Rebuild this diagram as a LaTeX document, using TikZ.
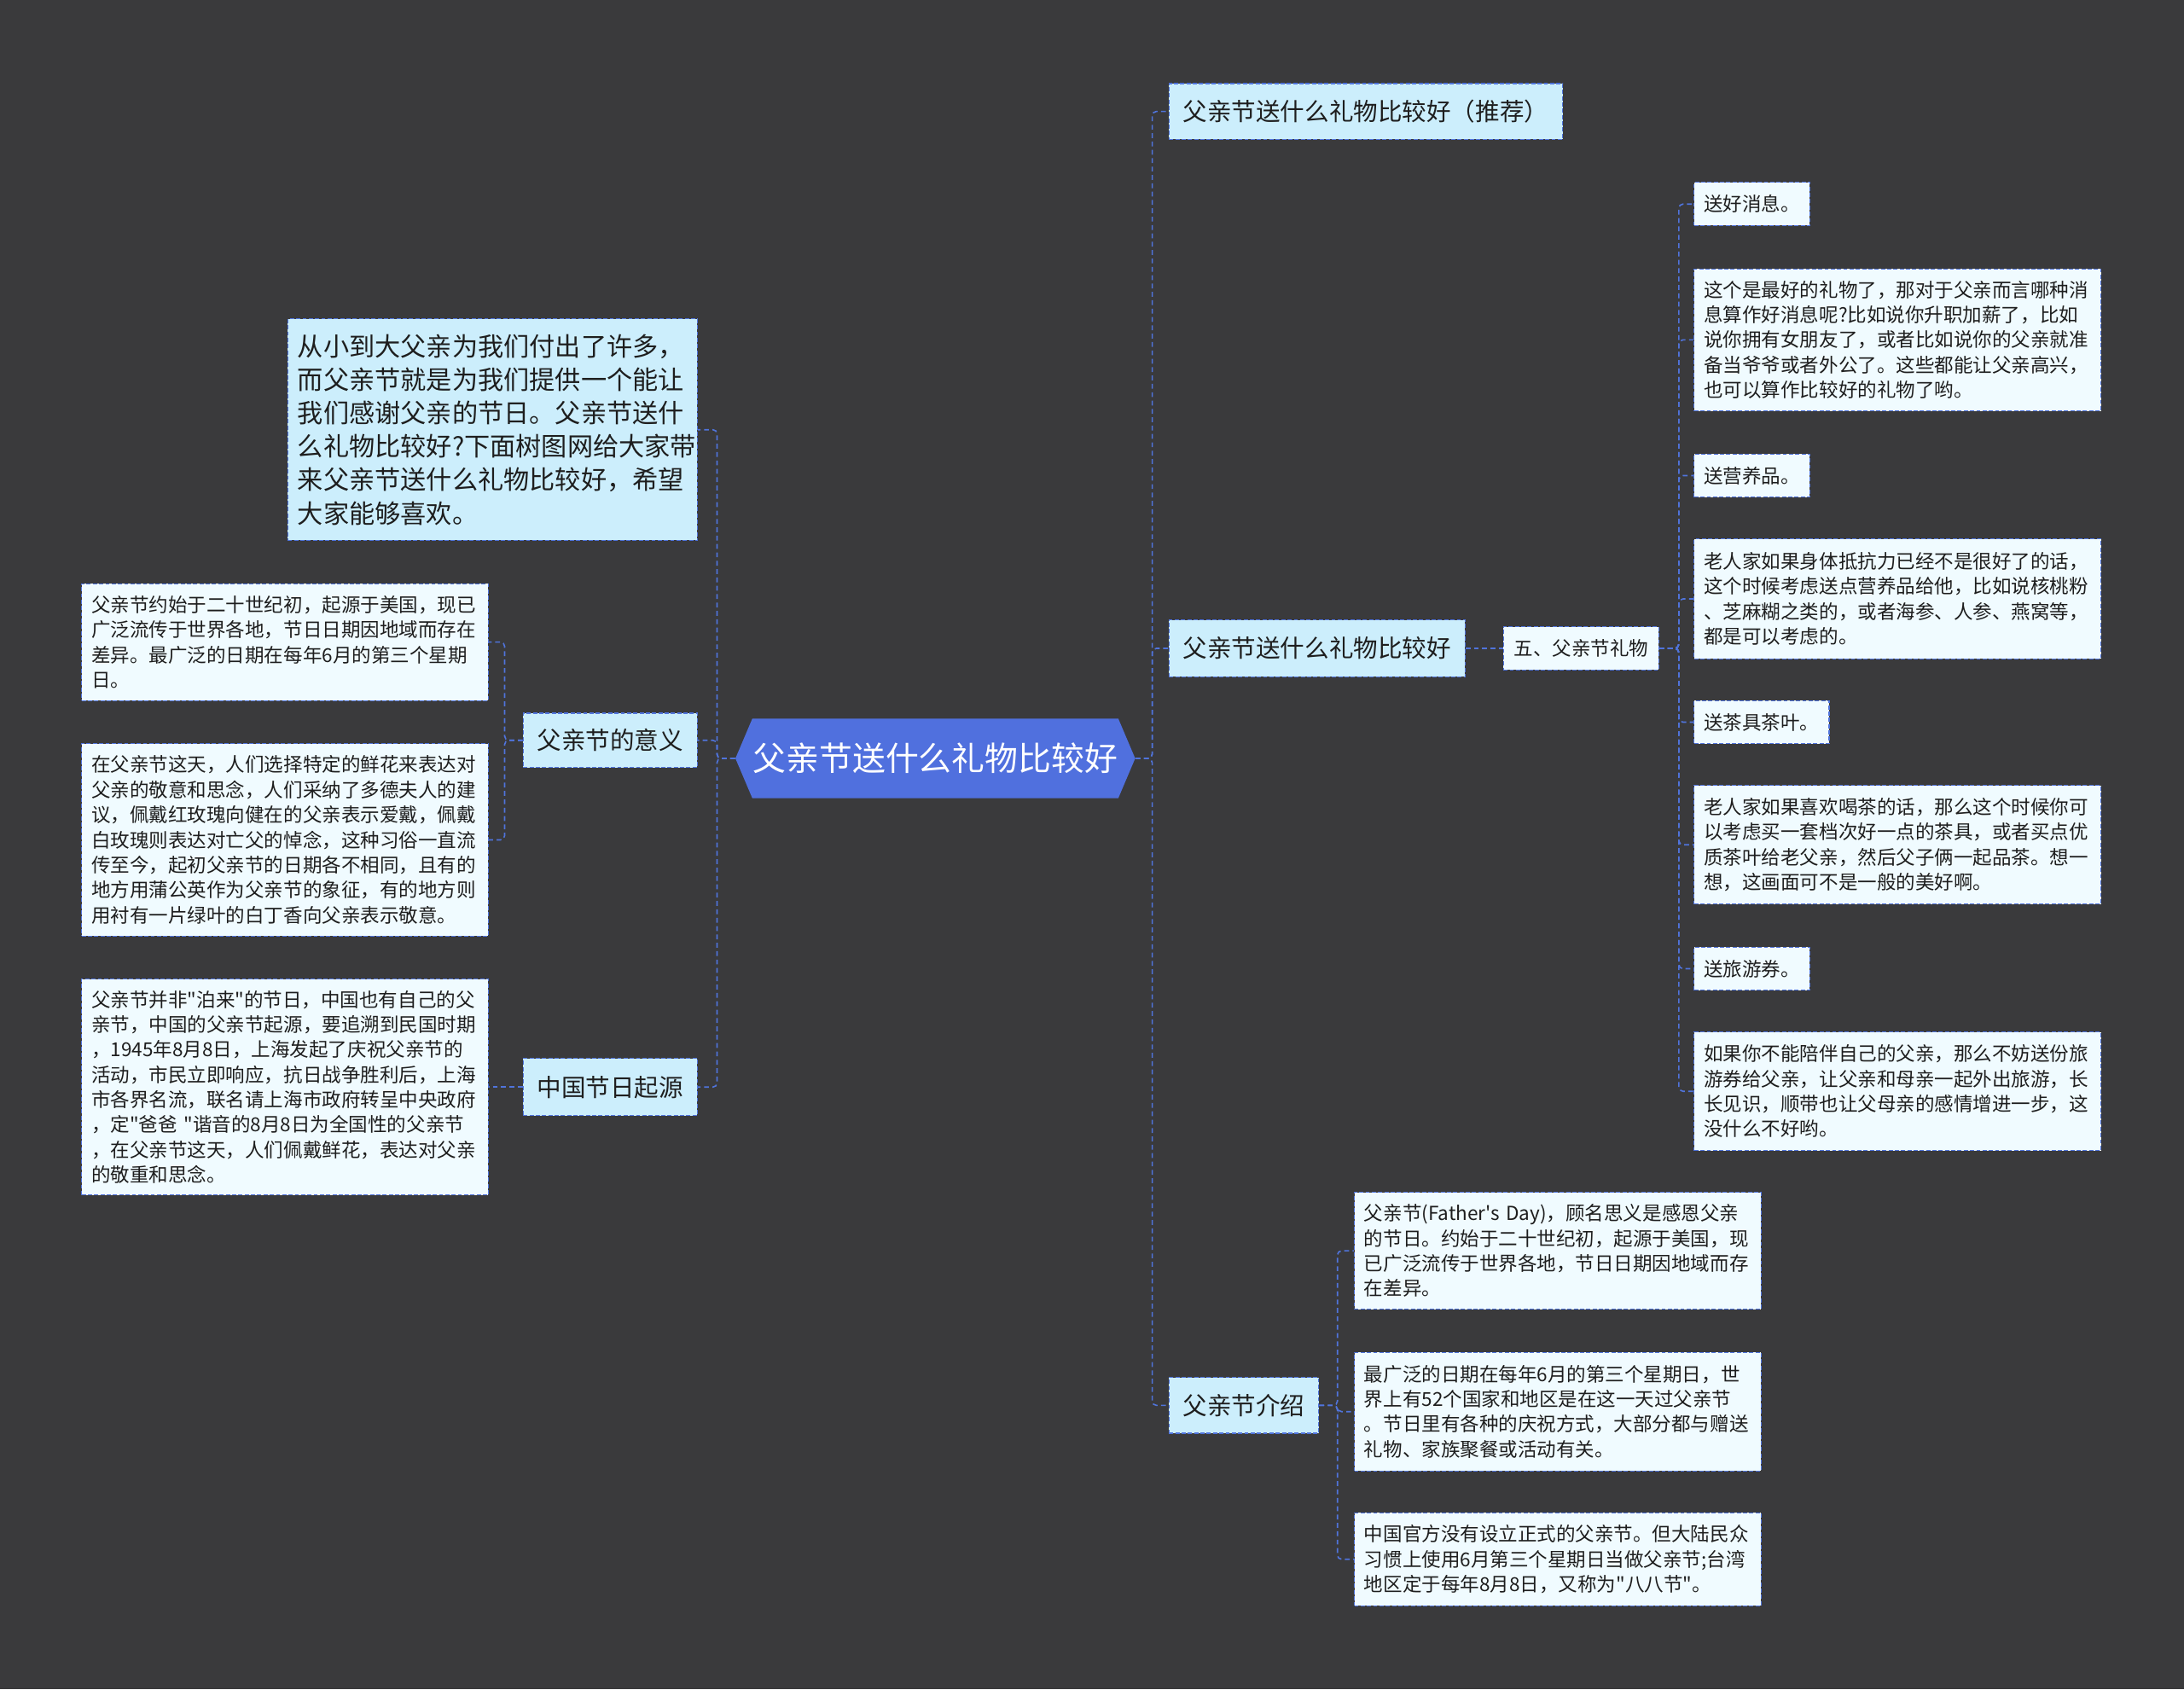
\documentclass[tikz,border=0pt]{standalone}
\usepackage{fontspec}
\newfontfamily\cjkfont{Noto Sans CJK SC}
\usetikzlibrary{shapes.symbols}

\definecolor{canvasgray}{RGB}{58,58,60}
\definecolor{rootblue}{RGB}{80,112,222}
\definecolor{linkblue}{RGB}{80,116,220}
\definecolor{topiccyan}{RGB}{204,238,252}
\definecolor{leafwhite}{RGB}{240,251,255}
\definecolor{inkgray}{RGB}{30,30,30}

\begin{document}
\begin{tikzpicture}[x=1pt, y=-1pt,
    linkline/.style={draw=linkblue, line width=1pt, dash pattern=on 3.5pt off 2.5pt, rounded corners=3pt},
    rootnode/.style={signal, signal to=east and west, signal pointer angle=134, fill=rootblue, text=white,
      font=\cjkfont\fontsize{23.8}{28}\selectfont, minimum width=287pt, minimum height=57pt, inner sep=0pt},
    topicbox/.style={draw=linkblue, line width=0.7pt, dash pattern=on 3pt off 1.5pt, fill=topiccyan, text=inkgray,
      font=\cjkfont\fontsize{17.5}{22}\selectfont, inner xsep=10pt, inner ysep=0pt, minimum height=40pt},
    introbox/.style={topicbox, text width=280pt, align=left, font=\cjkfont\fontsize{18.5}{24}\selectfont, inner xsep=7pt},
    leafbox/.style={draw=linkblue, line width=0.7pt, dash pattern=on 3pt off 1.5pt, fill=leafwhite, text=inkgray,
      font=\cjkfont\fontsize{13.8}{18}\selectfont, inner xsep=7pt, inner ysep=0pt, minimum height=31pt},
    leaftext/.style={leafbox, text width=278pt, align=left}]

    % Canvas
    \useasboundingbox (0,0) rectangle (1568,1213);
    \fill[canvasgray] (0,0) rectangle (1568,1213);

    % Root
    \node[rootnode] (root) at (671.5,544.5) {父亲节送什么礼物比较好};

    % Left branch
    \node[introbox, anchor=east, minimum height=159pt] (intro) at (501,308.5)
      {从小到大父亲为我们付出了许多，\\而父亲节就是为我们提供一个能让\\我们感谢父亲的节日。父亲节送什\\么礼物比较好?下面树图网给大家带\\来父亲节送什么礼物比较好，希望\\大家能够喜欢。};
    \node[topicbox, anchor=east, minimum height=39pt] (meaning) at (501,531.5) {父亲节的意义};
    \node[topicbox, anchor=east, minimum height=41pt] (origin) at (501,780.5) {中国节日起源};

    \node[leaftext, anchor=east, minimum height=84pt] (meanA) at (351,461)
      {父亲节约始于二十世纪初，起源于美国，现已\\广泛流传于世界各地，节日日期因地域而存在\\差异。最广泛的日期在每年6月的第三个星期\\日。};
    \node[leaftext, anchor=east, minimum height=138pt] (meanB) at (351,603)
      {在父亲节这天，人们选择特定的鲜花来表达对\\父亲的敬意和思念，人们采纳了多德夫人的建\\议，佩戴红玫瑰向健在的父亲表示爱戴，佩戴\\白玫瑰则表达对亡父的悼念，这种习俗一直流\\传至今，起初父亲节的日期各不相同，且有的\\地方用蒲公英作为父亲节的象征，有的地方则\\用衬有一片绿叶的白丁香向父亲表示敬意。};
    \node[leaftext, anchor=east, minimum height=155pt] (originA) at (351,780.5)
      {父亲节并非"泊来"的节日，中国也有自己的父\\亲节，中国的父亲节起源，要追溯到民国时期\\，1945年8月8日，上海发起了庆祝父亲节的\\活动，市民立即响应，抗日战争胜利后，上海\\市各界名流，联名请上海市政府转呈中央政府\\，定"爸爸~"谐音的8月8日为全国性的父亲节\\，在父亲节这天，人们佩戴鲜花，表达对父亲\\的敬重和思念。};

    % Right branch
    \node[topicbox, anchor=west] (recommend) at (839,80) {父亲节送什么礼物比较好（推荐）};
    \node[topicbox, anchor=west, minimum height=41pt] (gift) at (839,465.5) {父亲节送什么礼物比较好};
    \node[topicbox, anchor=west] (about) at (839,1009) {父亲节介绍};

    \node[leafbox, anchor=west, inner xsep=7.5pt] (five) at (1079,465.5) {五、父亲节礼物};

    \node[leafbox, anchor=west] (news) at (1216,146.5) {送好消息。};
    \node[leaftext, anchor=west, minimum height=102pt] (newsT) at (1216,244)
      {这个是最好的礼物了，那对于父亲而言哪种消\\息算作好消息呢?比如说你升职加薪了，比如\\说你拥有女朋友了，或者比如说你的父亲就准\\备当爷爷或者外公了。这些都能让父亲高兴，\\也可以算作比较好的礼物了哟。};
    \node[leafbox, anchor=west] (tonic) at (1216,341.5) {送营养品。};
    \node[leaftext, anchor=west, minimum height=86pt] (tonicT) at (1216,430)
      {老人家如果身体抵抗力已经不是很好了的话，\\这个时候考虑送点营养品给他，比如说核桃粉\\、芝麻糊之类的，或者海参、人参、燕窝等，\\都是可以考虑的。};
    \node[leafbox, anchor=west] (tea) at (1216,518.5) {送茶具茶叶。};
    \node[leaftext, anchor=west, minimum height=85pt] (teaT) at (1216,606.5)
      {老人家如果喜欢喝茶的话，那么这个时候你可\\以考虑买一套档次好一点的茶具，或者买点优\\质茶叶给老父亲，然后父子俩一起品茶。想一\\想，这画面可不是一般的美好啊。};
    \node[leafbox, anchor=west] (trip) at (1216,695.5) {送旅游券。};
    \node[leaftext, anchor=west, minimum height=85pt] (tripT) at (1216,783.5)
      {如果你不能陪伴自己的父亲，那么不妨送份旅\\游券给父亲，让父亲和母亲一起外出旅游，长\\长见识，顺带也让父母亲的感情增进一步，这\\没什么不好哟。};

    \node[leaftext, anchor=west, minimum height=84pt] (aboutA) at (972,898)
      {父亲节(Father's~Day)，顾名思义是感恩父亲\\的节日。约始于二十世纪初，起源于美国，现\\已广泛流传于世界各地，节日日期因地域而存\\在差异。};
    \node[leaftext, anchor=west, minimum height=85pt] (aboutB) at (972,1013.5)
      {最广泛的日期在每年6月的第三个星期日，世\\界上有52个国家和地区是在这一天过父亲节\\。节日里有各种的庆祝方式，大部分都与赠送\\礼物、家族聚餐或活动有关。};
    \node[leaftext, anchor=west, minimum height=67pt] (aboutC) at (972,1119.5)
      {中国官方没有设立正式的父亲节。但大陆民众\\习惯上使用6月第三个星期日当做父亲节;台湾\\地区定于每年8月8日，又称为"八八节"。};

    % Connectors, left
    \draw[linkline] (root.west) -- ++(-13,0) |- (intro.east);
    \draw[linkline] (root.west) -- ++(-13,0) |- (meaning.east);
    \draw[linkline] (root.west) -- ++(-13,0) |- (origin.east);
    \draw[linkline] (meaning.west) -- ++(-13,0) |- (meanA.east);
    \draw[linkline] (meaning.west) -- ++(-13,0) |- (meanB.east);
    \draw[linkline] (origin.west) -- (originA.east);

    % Connectors, right
    \draw[linkline] (root.east) -- ++(12,0) |- (recommend.west);
    \draw[linkline] (root.east) -- ++(12,0) |- (gift.west);
    \draw[linkline] (root.east) -- ++(12,0) |- (about.west);
    \draw[linkline] (gift.east) -- (five.west);
    \draw[linkline] (five.east) -- ++(14,0) |- (news.west);
    \draw[linkline] (five.east) -- ++(14,0) |- (newsT.west);
    \draw[linkline] (five.east) -- ++(14,0) |- (tonic.west);
    \draw[linkline] (five.east) -- ++(14,0) |- (tonicT.west);
    \draw[linkline] (five.east) -- ++(14,0) |- (tea.west);
    \draw[linkline] (five.east) -- ++(14,0) |- (teaT.west);
    \draw[linkline] (five.east) -- ++(14,0) |- (trip.west);
    \draw[linkline] (five.east) -- ++(14,0) |- (tripT.west);
    \draw[linkline] (about.east) -- ++(13,0) |- (aboutA.west);
    \draw[linkline] (about.east) -- ++(13,0) |- (aboutB.west);
    \draw[linkline] (about.east) -- ++(13,0) |- (aboutC.west);
\end{tikzpicture}
\end{document}
